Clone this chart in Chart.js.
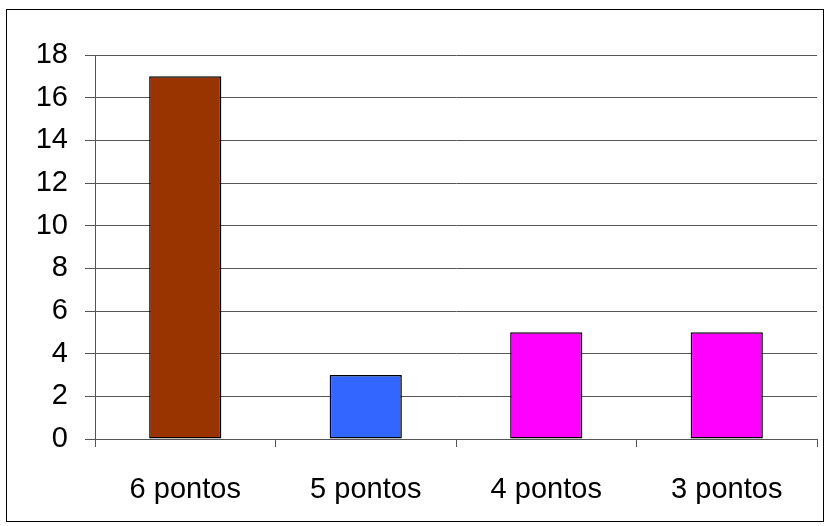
<!DOCTYPE html>
<html lang="pt">
<head>
    <meta charset="UTF-8">
    <title>Pontos</title>
    <script src="https://cdn.jsdelivr.net/npm/chart.js"></script>
    <style>
        body { margin: 0; background: #fff; }
        .master { position: relative; width: 827px; height: 526px; }
    </style>
</head>
<body>
    <div class="master">
        <canvas id="myChart" width="827" height="526"></canvas>
    </div>

    <script>
        // data
        const categories = ['6 pontos', '5 pontos', '4 pontos', '3 pontos'];
        const values = [17, 3, 5, 5];
        const barColors = ['#993300', '#3366FF', '#FF00FF', '#FF00FF'];

        // outer frame round the whole picture
        const frame = {
            id: 'frame',
            beforeDraw(chart) {
                const c = chart.ctx;
                c.save();
                c.fillStyle = '#fff';
                c.fillRect(0, 0, chart.width, chart.height);
                c.strokeStyle = '#000';
                c.lineWidth = 1;
                c.strokeRect(6.5, 9.5, 817, 512);
                c.restore();
            }
        };

        const ctx = document.getElementById('myChart').getContext('2d');
        const myChart = new Chart(ctx, {
            type: 'bar',
            data: {
                labels: categories,
                datasets: [{
                    data: values,
                    backgroundColor: barColors,
                    borderColor: '#000',
                    borderWidth: 1.5,
                    borderSkipped: false,
                    barPercentage: 0.4,
                    categoryPercentage: 1
                }]
            },
            plugins: [frame],
            options: {
                responsive: false,
                animation: false,
                layout: { padding: { top: 55, right: 10, left: 0, bottom: 0 } },
                plugins: {
                    legend: { display: false },
                    tooltip: { enabled: false }
                },
                scales: {
                    x: {
                        afterFit: (s) => { s.height = 87; },
                        grid: {
                            offset: true,
                            drawOnChartArea: false,
                            tickLength: 8,
                            color: '#555'
                        },
                        border: { color: '#555', width: 1 },
                        ticks: {
                            color: '#000',
                            padding: 26,
                            font: { family: 'Liberation Sans, Arial', size: 29 }
                        }
                    },
                    y: {
                        min: 0,
                        max: 18,
                        afterFit: (s) => { s.width = 95; },
                        grid: { color: '#555', tickLength: 10 },
                        border: { color: '#555', width: 1 },
                        ticks: {
                            stepSize: 2,
                            color: '#000',
                            padding: 17,
                            font: { family: 'Liberation Sans, Arial', size: 29 }
                        }
                    }
                }
            }
        });
    </script>
</body>
</html>
